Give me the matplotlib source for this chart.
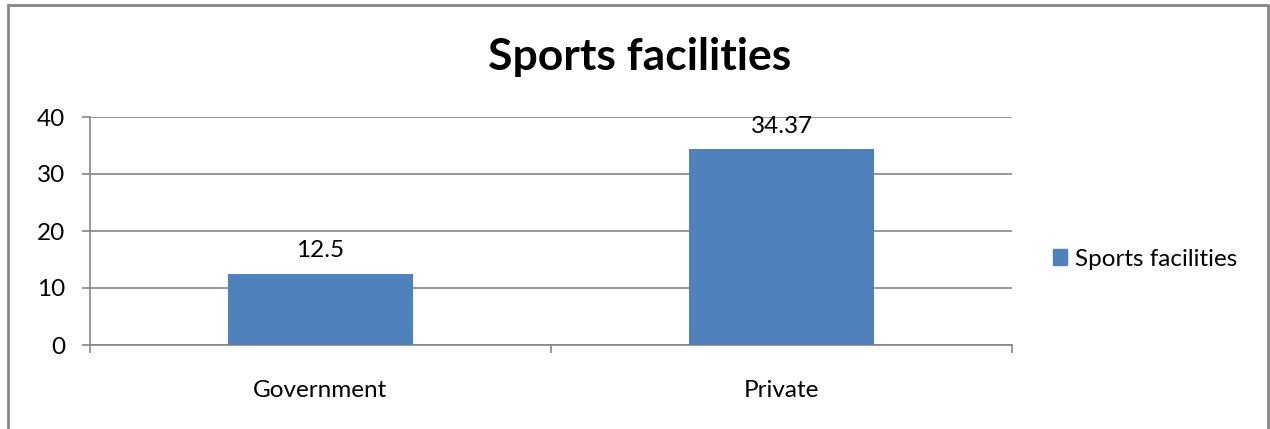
import matplotlib.pyplot as plt
from matplotlib.patches import Rectangle

# data
categories = ['Government', 'Private']
values = [12.5, 34.37]
value_labels = ['12.5', '34.37']
series_name = 'Sports facilities'
y_ticks = [0, 10, 20, 30, 40]

plt.rcParams['font.family'] = ['Lato', 'DejaVu Sans']

bar_color = '#4F81BD'
grid_color = '#868686'

fig = plt.figure(figsize=(12.7, 4.29), dpi=100)
ax = fig.add_axes([90 / 1270, 84 / 429, 922 / 1270, 228 / 429])

x = range(len(categories))
bars = ax.bar(x, values, width=0.4, color=bar_color, label=series_name, zorder=3)

# labels above bars
for b, lab in zip(bars, value_labels):
    ax.annotate(lab, (b.get_x() + b.get_width() / 2, b.get_height()),
                xytext=(0, 9), textcoords='offset points',
                ha='center', va='bottom', fontsize=17.5, color='#000000')

ax.set_xlim(-0.5, len(categories) - 0.5)
ax.set_ylim(0, 40)
ax.set_yticks(y_ticks)
ax.set_yticklabels([str(t) for t in y_ticks], fontsize=17.5)
ax.yaxis.grid(True, color=grid_color, linewidth=1.2, zorder=0)

# x ticks at category boundaries, labels centred
ax.set_xticks([-0.5, 0.5, 1.5])
ax.set_xticklabels([])
ax.set_xticks(list(x), minor=True)
ax.set_xticklabels(categories, minor=True, fontsize=17.5)
ax.tick_params(axis='x', which='minor', length=0, pad=25)
ax.tick_params(axis='x', which='major', length=6, width=1.2, color=grid_color)
ax.tick_params(axis='y', length=6, width=1.2, color=grid_color, pad=12)

for s in ['top', 'right']:
    ax.spines[s].set_visible(False)
for s in ['left', 'bottom']:
    ax.spines[s].set_color(grid_color)
    ax.spines[s].set_linewidth(1.2)

fig.text(640 / 1270, 1 - 57 / 429, 'Sports facilities', ha='center', va='center',
         fontsize=32, fontweight='bold')

leg = fig.legend(handles=[Rectangle((0, 0), 1, 1, color=bar_color)], labels=[series_name],
                 loc='center left', bbox_to_anchor=(1031 / 1270, 1 - 259 / 429),
                 frameon=False, fontsize=17.5, handlelength=0.6, handleheight=0.6,
                 handletextpad=0.3)

# outer border of the chart area
fig.patches.append(Rectangle((8 / 1270, -0.1), 1260 / 1270, 1.1 - 5 / 429,
                             transform=fig.transFigure, fill=False,
                             edgecolor='#868686', linewidth=2))

fig.savefig('out.png', dpi=100)
